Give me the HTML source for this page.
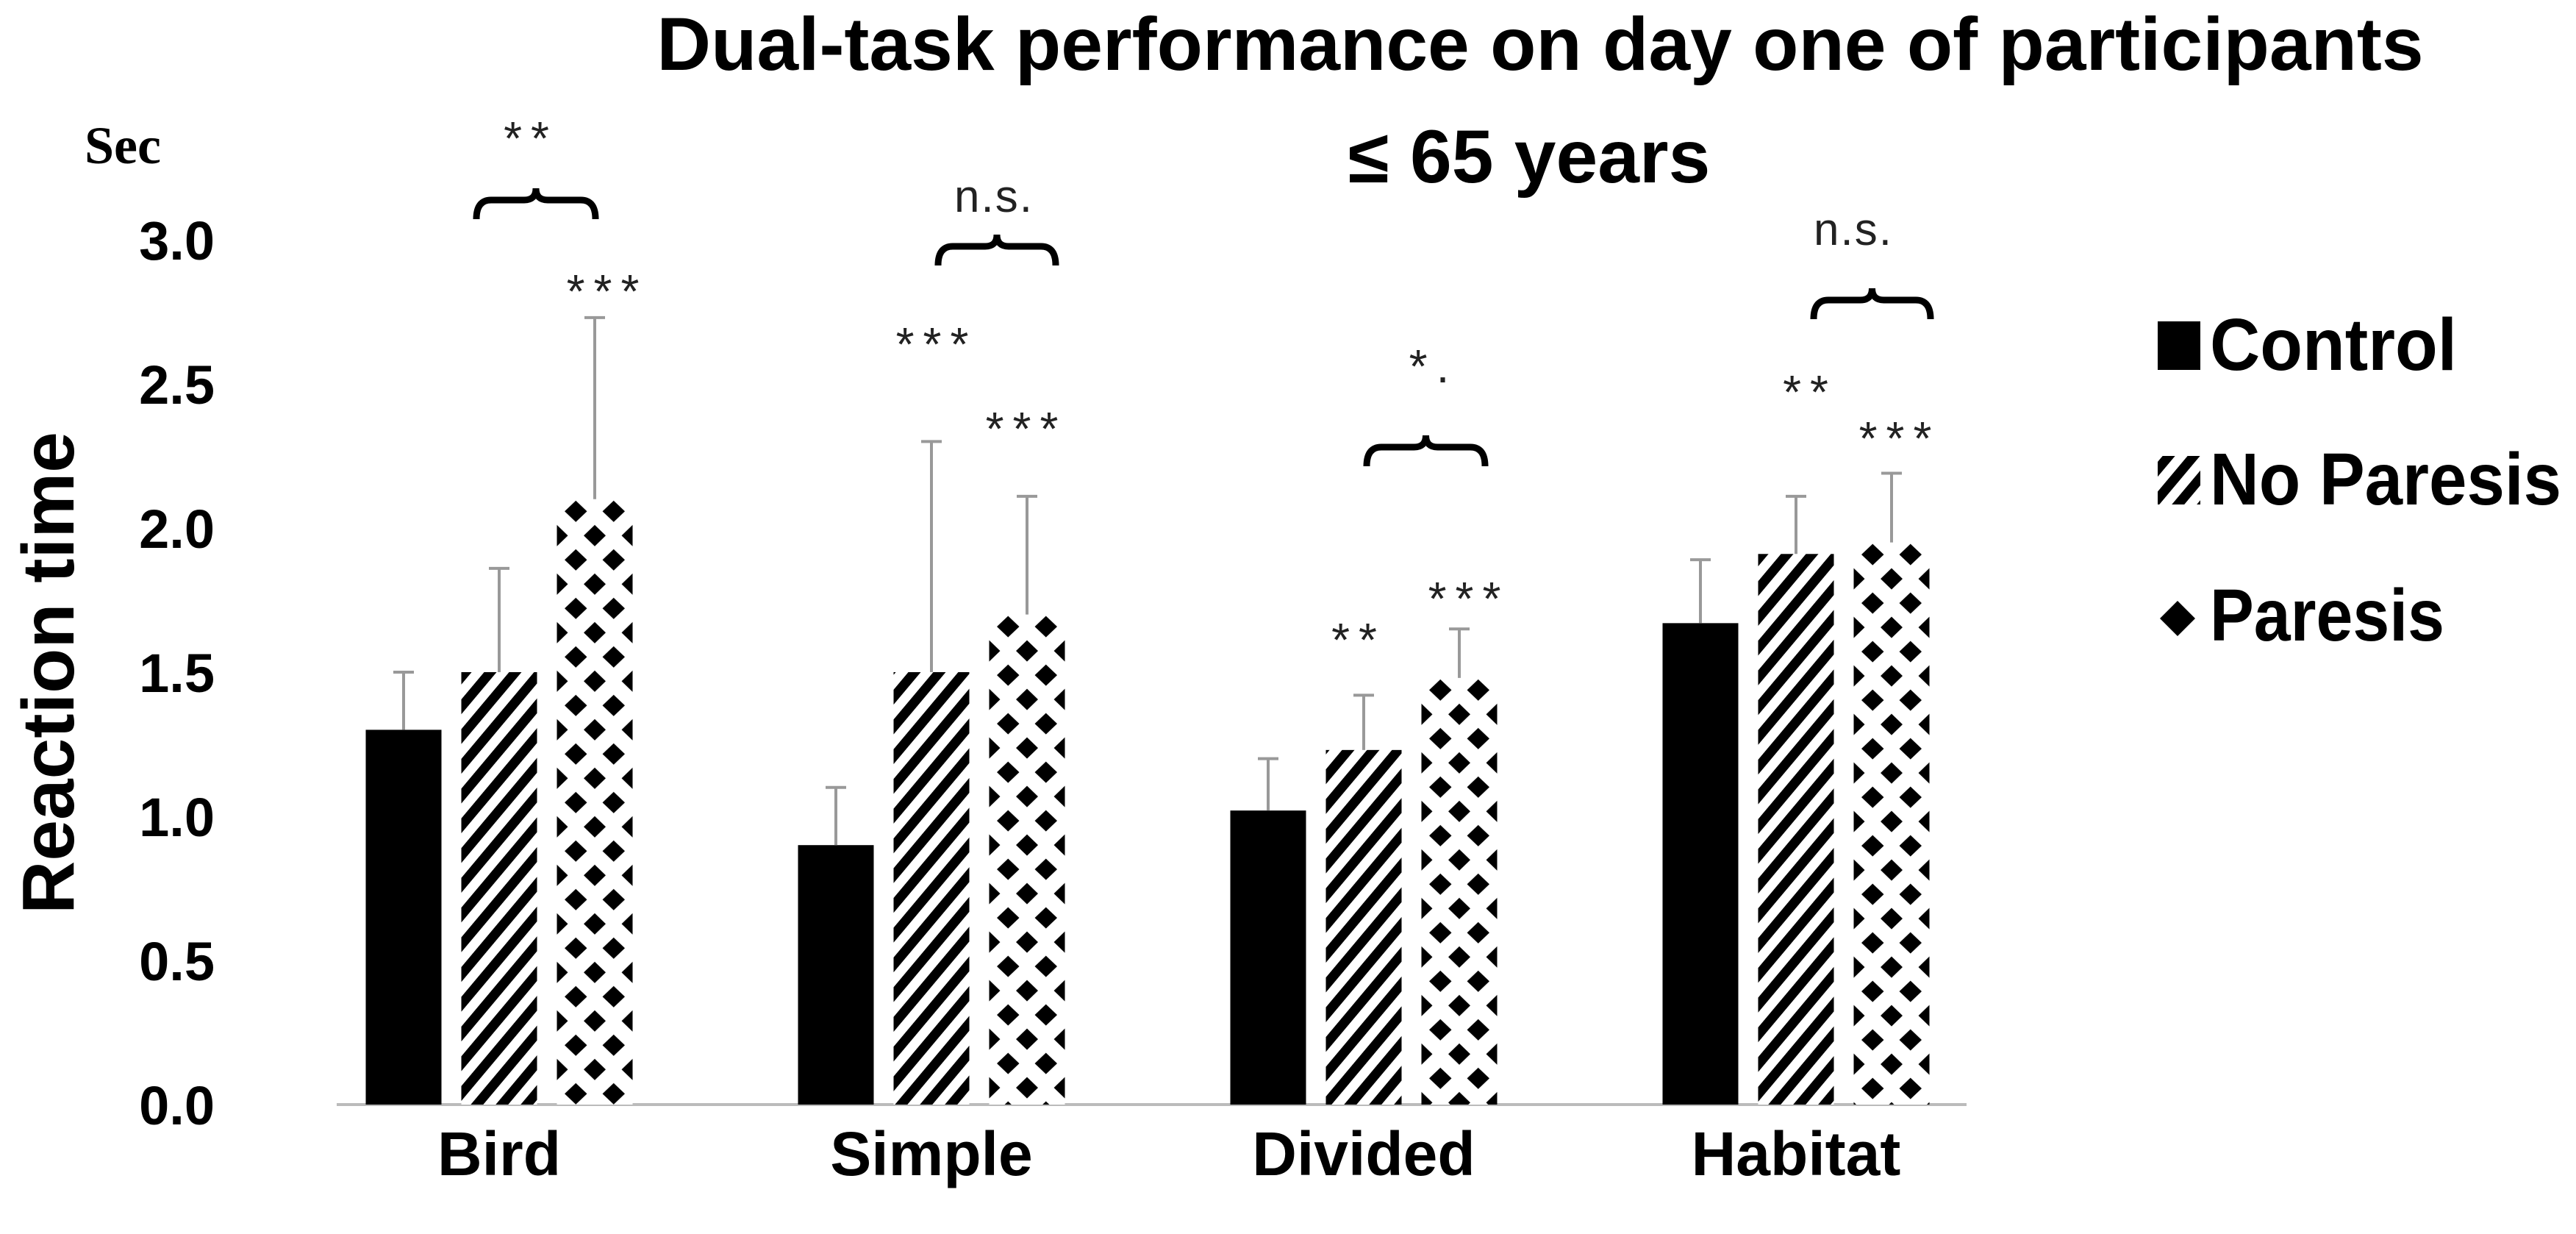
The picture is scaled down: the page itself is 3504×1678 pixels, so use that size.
<!DOCTYPE html>
<html><head><meta charset="utf-8"><style>
html,body{margin:0;padding:0;background:#fff;}
svg{display:block;}
text{font-family:"Liberation Sans",sans-serif;}
</style></head><body>
<svg id="chart" width="3504" height="1678" viewBox="0 0 3504 1678" xmlns="http://www.w3.org/2000/svg">
<defs id="defs">
<pattern id="stripes" patternUnits="userSpaceOnUse" width="26" height="26" patternTransform="rotate(40)">
<rect width="26" height="26" fill="#fff"/><rect x="0" y="0" width="13" height="26" fill="#000"/>
</pattern>
</defs>
<text x="2095" y="95" text-anchor="middle" font-size="102" font-weight="bold">Dual-task performance on day one of participants</text>
<text x="2080" y="248" text-anchor="middle" font-size="102" font-weight="bold">≤ 65 years</text>
<text x="115" y="222" font-size="72" font-weight="bold" style="font-family:'Liberation Serif',serif">Sec</text>
<text transform="translate(100,915) rotate(-90)" text-anchor="middle" font-size="100" font-weight="bold">Reaction time</text>
<g id="yticks"></g>
<line x1="458" y1="1502" x2="2675" y2="1502" stroke="#bbb" stroke-width="4"/>
<g id="bars"></g>
<g id="annot"></g>
<g>
<rect x="2935" y="437" width="58" height="66" fill="#000"/>
<text x="3006" y="503" font-size="100" font-weight="bold" textLength="336" lengthAdjust="spacingAndGlyphs">Control</text>
<rect x="2935" y="620" width="58" height="66" fill="url(#stripes)"/>
<text x="3006" y="686" font-size="100" font-weight="bold" textLength="478" lengthAdjust="spacingAndGlyphs">No Paresis</text>
<polygon points="2962,817 2986,841 2962,865 2938,841" fill="#000"/>
<text x="3006" y="871" font-size="100" font-weight="bold" textLength="319" lengthAdjust="spacingAndGlyphs">Paresis</text>
</g>
</svg>
<script>
const categories = ["Bird","Simple","Divided","Habitat"];
const controlVals = [1.30,0.90,1.02,1.67];
const noParesisVals = [1.50,1.50,1.23,1.91];
const paresisVals = [2.10,1.70,1.48,1.95];
const controlErr = [1.50,1.10,1.20,1.89];
const noParesisErr = [1.86,2.30,1.42,2.11];
const paresisErr = [2.73,2.11,1.65,2.19];
const yTicks = [0,0.5,1.0,1.5,2.0,2.5,3.0];
const NS="http://www.w3.org/2000/svg";
const y = v => 1502 - v*392;
const cx = i => 679 + i*588;
function mk(tag, attrs, parent){const e=document.createElementNS(NS,tag);for(const k in attrs)e.setAttribute(k,attrs[k]);parent.appendChild(e);return e;}
const defs=document.getElementById('defs');
const yt=document.getElementById('yticks');
yTicks.forEach(t=>{const e=mk('text',{x:292,y:y(t)+27,'text-anchor':'end','font-size':74,'font-weight':'bold'},yt);


e.textContent=t.toFixed(1);});
const bars=document.getElementById('bars');
const series=[{v:controlVals,e:controlErr,f:'#000',n:'control'},{v:noParesisVals,e:noParesisErr,f:'url(#stripes)',n:'no-paresis'},{v:paresisVals,e:paresisErr,f:'dia',n:'paresis'}];
categories.forEach((c,i)=>{
  series.forEach((s,j)=>{
    const x=cx(i)+(j-1)*130-51.5;
    let fill=s.f;
    if(fill==='dia'){
      const id='dia'+i;
      const p=mk('pattern',{id:id,patternUnits:'userSpaceOnUse',width:51.5,height:66,x:x,y:y(s.v[i])},defs);
      mk('rect',{width:51.5,height:66,fill:'#fff'},p);
      mk('polygon',{points:'25.75,2 41,16.5 25.75,31 10.5,16.5',fill:'#000'},p);
      mk('polygon',{points:'0,35 15,49.5 0,64 -15,49.5',fill:'#000'},p);
      mk('polygon',{points:'51.5,35 66.5,49.5 51.5,64 36.5,49.5',fill:'#000'},p);
      fill='url(#'+id+')';
    }
    const r=mk('rect',{x:x,y:y(s.v[i]),width:103,height:y(0)-y(s.v[i]),fill:fill},bars);
    
    
    const mx=x+51.5;
    const l=mk('path',{d:`M${mx},${y(s.v[i])} V${y(s.e[i])} M${mx-14},${y(s.e[i])} H${mx+14}`,stroke:'#999',fill:'none','stroke-width':4},bars);
    
    
  });
  const t=mk('text',{x:cx(i),y:1598,'text-anchor':'middle','font-size':84,'font-weight':'bold'},bars);
  
  
  t.textContent=c;
});
const an=document.getElementById('annot');
const labels=[["**",722,210],["***",826,418],["***",1274,490],["***",1396,605],["n.s.",1352,288],["**",1848,892],["***",1998,836],["*.",1950,520],["**",2462,555],["***",2584,618],["n.s.",2521,333]];
labels.forEach(a=>{const e=mk('text',{x:a[1],y:a[2],'text-anchor':'middle','font-size':a[0]==='n.s.'?62:64,fill:'#222','letter-spacing':a[0]==='n.s.'?2:12},an);


e.textContent=a[0];});
const braces=[[648,810,262],[1276,1436,325],[1859,2020,598],[2467,2626,398]];
braces.forEach(b=>{const m=(b[0]+b[1])/2,t=b[2],h=36;
const p=mk('path',{d:`M${b[0]},${t+h} Q${b[0]},${t+10} ${b[0]+20},${t+10} H${m-16} Q${m},${t+10} ${m},${t-6} Q${m},${t+10} ${m+16},${t+10} H${b[1]-20} Q${b[1]},${t+10} ${b[1]},${t+h}`,fill:'none',stroke:'#000','stroke-width':9},an);

});
</script>
</body></html>
